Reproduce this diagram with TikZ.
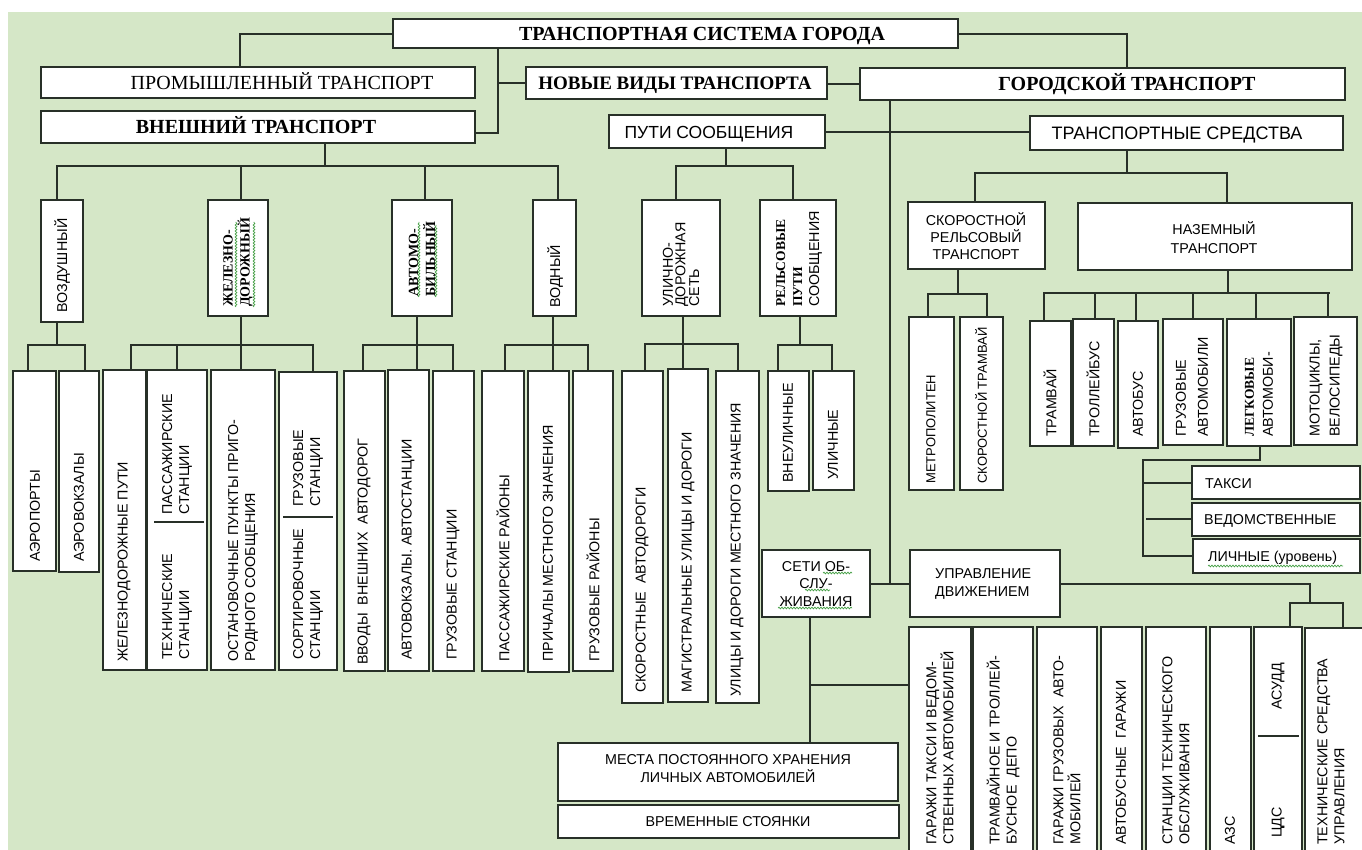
\documentclass[tikz,border=0pt]{standalone}
\usepackage{fontspec}
\setmainfont{Liberation Serif}
\setsansfont{Liberation Sans}
\usetikzlibrary{decorations.pathmorphing}
\definecolor{bg}{RGB}{213,231,199}
\definecolor{ln}{RGB}{40,48,40}
\definecolor{sqc}{RGB}{70,160,70}
\newcommand\bx[5]{\pgfmathsetmacro\bxw{#4-#2}\pgfmathsetmacro\bxh{#5-#3}\node[bx,minimum width=\bxw pt,minimum height=\bxh pt] (#1) at (#2,#3) {};}
\newcommand\rtx[5][]{\node[rt,#1] (#2) at (#3,#4) {#5};}
\begin{document}
\begin{tikzpicture}[x=1pt,y=-1pt,
  bx/.style={rectangle,draw=ln,line width=1.6pt,fill=white,inner sep=0pt,outer sep=0pt,anchor=north west},
  cn/.style={draw=ln,line width=2pt,line cap=rect},
  sep/.style={draw=ln,line width=1.6pt},
  rt/.style={rotate=90,anchor=west,inner sep=0pt,align=left,font=\sffamily\fontsize{14.3}{17}\selectfont},
  rtb/.style={font=\rmfamily\bfseries\fontsize{14}{17}\selectfont},
  hs/.style={inner sep=0pt,align=center,font=\sffamily\fontsize{14.3}{17}\selectfont},
  hb/.style={inner sep=0pt,anchor=base,font=\bfseries\fontsize{20}{22}\selectfont},
  sqs/.style={draw=sqc,line width=0.7pt,decorate,decoration={snake,amplitude=0.9pt,segment length=3pt}}]
\useasboundingbox (0,0) rectangle (1362,850);
\clip (0,0) rectangle (1362,850);
\fill[white] (0,0) rectangle (1362,850);
\fill[bg] (8,12) rectangle (1362,850);

% ---------- boxes ----------
\bx{top}{393}{19}{958}{48}
\bx{prom}{41}{67}{475}{98}
\bx{nov}{526}{67}{827}{99}
\bx{gor}{860}{68}{1345}{100}
\bx{vne}{41}{111}{475}{143}
\bx{put}{609}{115}{825}{148}
\bx{ts}{1030}{116}{1343}{150}

\bx{vozd}{41}{200}{83}{322}
\bx{zhd}{208}{200}{268}{316}
\bx{avt}{392}{200}{452}{316}
\bx{vod}{533}{200}{576}{316}
\bx{uds}{642}{200}{720}{316}
\bx{rps}{760}{200}{836}{316}

\bx{aero}{13}{371}{56}{571}
\bx{avkz}{59}{371}{99}{572}
\bx{zdp}{103}{370}{146}{670}
\bx{pst}{147}{370}{207}{670}
\bx{opp}{211}{370}{275}{670}
\bx{gst}{279}{372}{337}{670}
\bx{vvod}{344}{371}{385}{671}
\bx{avst}{388}{370}{429}{671}
\bx{grst}{433}{371}{474}{671}
\bx{pasr}{482}{371}{524}{671}
\bx{prich}{528}{371}{569}{672}
\bx{grr}{573}{371}{613}{671}
\bx{skad}{622}{371}{663}{703}
\bx{mag}{668}{369}{708}{702}
\bx{ulmz}{716}{371}{759}{703}
\bx{vneul}{768}{371}{809}{491}
\bx{ulich}{813}{371}{854}{490}

\bx{seti}{762}{550}{870}{617}
\bx{mesta}{558}{743}{898}{801}
\bx{vrem}{558}{805}{899}{838}
\bx{upr}{910}{550}{1060}{617}

\bx{skr}{908}{202}{1045}{269}
\bx{naz}{1078}{203}{1352}{270}
\bx{metro}{909}{317}{954}{490}
\bx{sktr}{960}{317}{1003}{490}
\bx{tram}{1030}{321}{1071}{446}
\bx{troll}{1073}{319}{1114}{446}
\bx{avtob}{1118}{321}{1158}{448}
\bx{gruz}{1163}{319}{1223}{445}
\bx{legk}{1227}{319}{1291}{446}
\bx{moto}{1294}{317}{1357}{445}
\bx{taxi}{1192}{466}{1360}{499}
\bx{ved}{1192}{503}{1360}{536}
\bx{lich}{1193}{539}{1360}{573}

\bx{gar1}{909}{627}{971}{870}
\bx{depo}{973}{627}{1033}{870}
\bx{gar2}{1037}{627}{1097}{870}
\bx{avg}{1101}{627}{1142}{870}
\bx{sto}{1146}{627}{1206}{870}
\bx{azs}{1210}{627}{1251}{870}
\bx{asu}{1254}{627}{1302}{870}
\bx{tsu}{1305}{628}{1380}{870}

% ---------- horizontal texts ----------
\node[hb] (t-top) at (702,40.5) {ТРАНСПОРТНАЯ СИСТЕМА ГОРОДА};
\node[hb,font=\fontsize{20}{22}\selectfont] (t-prom) at (282,89.5) {ПРОМЫШЛЕННЫЙ ТРАНСПОРТ};
\node[hb,font=\bfseries\fontsize{19}{22}\selectfont] (t-nov) at (675,89.3) {НОВЫЕ ВИДЫ ТРАНСПОРТА};
\node[hb] (t-gor) at (1127,90.5) {ГОРОДСКОЙ ТРАНСПОРТ};
\node[hb] (t-vne) at (256,133.5) {ВНЕШНИЙ ТРАНСПОРТ};
\node[hb,font=\sffamily\fontsize{17.5}{20}\selectfont] (t-put) at (709,138.3) {ПУТИ СООБЩЕНИЯ};
\node[hb,font=\sffamily\fontsize{18}{20}\selectfont] (t-ts) at (1177,139.4) {ТРАНСПОРТНЫЕ СРЕДСТВА};
\node[hs] (t-skr) at (976,236) {СКОРОСТНОЙ\\РЕЛЬСОВЫЙ\\ТРАНСПОРТ};
\node[hs,font=\sffamily\fontsize{14.3}{19}\selectfont] (t-naz) at (1214,238) {НАЗЕМНЫЙ\\ТРАНСПОРТ};
\node[hs,anchor=base west] (t-taxi) at (1205,488) {ТАКСИ};
\node[hs,anchor=base west] (t-ved) at (1204,524.5) {ВЕДОМСТВЕННЫЕ};
\node[hs,anchor=base west] (t-lich) at (1208,561) {ЛИЧНЫЕ (уровень)};
\node[hs,font=\sffamily\fontsize{14.3}{17.5}\selectfont] (t-seti) at (816,584) {СЕТИ ОБ-\\СЛУ-\\ЖИВАНИЯ};
\node[hs,align=left,anchor=west,font=\sffamily\fontsize{14.3}{18}\selectfont] (t-upr) at (935,584) {УПРАВЛЕНИЕ\\ДВИЖЕНИЕМ};
\node[hs,font=\sffamily\fontsize{14.3}{18}\selectfont] (t-mesta) at (728,769) {МЕСТА ПОСТОЯННОГО ХРАНЕНИЯ\\ЛИЧНЫХ АВТОМОБИЛЕЙ};
\node[hs] (t-vrem) at (728,822) {ВРЕМЕННЫЕ СТОЯНКИ};

% ---------- rotated texts ----------
\rtx{r-vozd}{62}{313}{ВОЗДУШНЫЙ}
\rtx[rtb]{r-zhd}{238}{307}{ЖЕЛЕЗНО-\\ДОРОЖНЫЙ}
\rtx[rtb]{r-avt}{422}{297}{АВТОМО-\\БИЛЬНЫЙ}
\rtx{r-vod}{555}{308}{ВОДНЫЙ}
\rtx[font=\sffamily\fontsize{14.3}{12.5}\selectfont]{r-uds}{681}{307}{УЛИЧНО-\\ДОРОЖНАЯ\\СЕТЬ}
\rtx[rtb,font=\rmfamily\bfseries\fontsize{13.5}{17}\selectfont]{r-rps}{799}{307}{РЕЛЬСОВЫЕ\\ПУТИ\\{\sffamily\mdseries\fontsize{14.3}{17}\selectfont СООБЩЕНИЯ}}

\rtx{r-aero}{35}{562}{АЭРОПОРТЫ}
\rtx{r-avkz}{79}{562}{АЭРОВОКЗАЛЫ}
\rtx{r-zdp}{124}{662}{ЖЕЛЕЗНОДОРОЖНЫЕ ПУТИ}
\rtx{r-pass}{177}{515}{ПАССАЖИРСКИЕ\\СТАНЦИИ}
\rtx{r-tech}{177}{660}{ТЕХНИЧЕСКИЕ\\СТАНЦИИ}
\rtx{r-opp}{243}{662}{ОСТАНОВОЧНЫЕ ПУНКТЫ ПРИГО-\\РОДНОГО СООБЩЕНИЯ}
\rtx{r-gruzst}{308}{507}{ГРУЗОВЫЕ\\СТАНЦИИ}
\rtx{r-sort}{308}{660}{СОРТИРОВОЧНЫЕ\\СТАНЦИИ}
\rtx{r-vvod}{364}{665}{ВВОДЫ~ ВНЕШНИХ~ АВТОДОРОГ}
\rtx{r-avst}{408}{660}{АВТОВОКЗАЛЫ. АВТОСТАНЦИИ}
\rtx{r-grst}{453}{660}{ГРУЗОВЫЕ СТАНЦИИ}
\rtx{r-pasr}{503}{662}{ПАССАЖИРСКИЕ РАЙОНЫ}
\rtx{r-prich}{548}{662}{ПРИЧАЛЫ МЕСТНОГО ЗНАЧЕНИЯ}
\rtx{r-grr}{593}{662}{ГРУЗОВЫЕ РАЙОНЫ}
\rtx{r-skad}{642}{693}{СКОРОСТНЫЕ~ АВТОДОРОГИ}
\rtx{r-mag}{688}{693}{МАГИСТРАЛЬНЫЕ УЛИЦЫ И ДОРОГИ}
\rtx{r-ulmz}{737}{697}{УЛИЦЫ И ДОРОГИ МЕСТНОГО ЗНАЧЕНИЯ}
\rtx{r-vneul}{788}{483}{ВНЕУЛИЧНЫЕ}
\rtx{r-ulich}{833}{480}{УЛИЧНЫЕ}

\rtx[font=\sffamily\fontsize{13}{16}\selectfont]{r-metro}{931}{484}{МЕТРОПОЛИТЕН}
\rtx[font=\sffamily\fontsize{13}{16}\selectfont]{r-sktr}{981}{484}{СКОРОСТНОЙ ТРАМВАЙ}
\rtx{r-tram}{1050}{437}{ТРАМВАЙ}
\rtx{r-troll}{1093}{437}{ТРОЛЛЕЙБУС}
\rtx{r-avtob}{1138}{437}{АВТОБУС}
\rtx[font=\sffamily\fontsize{14.3}{22}\selectfont]{r-gruz}{1192}{437}{ГРУЗОВЫЕ\\АВТОМОБИЛИ}
\rtx[font=\sffamily\fontsize{14.3}{19}\selectfont]{r-legk}{1259}{437}{{\rmfamily\bfseries\fontsize{13.5}{19}\selectfont ЛЕГКОВЫЕ}\\АВТОМОБИ-}
\rtx[font=\sffamily\fontsize{14.3}{20}\selectfont]{r-moto}{1326}{437}{МОТОЦИКЛЫ,\\ВЕЛОСИПЕДЫ}

\rtx{r-gar1}{940}{845}{ГАРАЖИ ТАКСИ И ВЕДОМ-\\СТВЕННЫХ АВТОМОБИЛЕЙ}
\rtx{r-depo}{1003}{845}{ТРАМВАЙНОЕ И ТРОЛЛЕЙ-\\БУСНОЕ~ ДЕПО}
\rtx{r-gar2}{1067}{845}{ГАРАЖИ ГРУЗОВЫХ~ АВТО-\\МОБИЛЕЙ}
\rtx{r-avg}{1121}{845}{АВТОБУСНЫЕ~ ГАРАЖИ}
\rtx{r-sto}{1176}{845}{СТАНЦИИ ТЕХНИЧЕСКОГО\\ОБСЛУЖИВАНИЯ}
\rtx{r-azs}{1230}{845}{АЗС}
\rtx{r-asudd}{1278}{710}{АСУДД}
\rtx{r-cds}{1278}{838}{ЦДС}
\rtx{r-tsu}{1331}{845}{ТЕХНИЧЕСКИЕ СРЕДСТВА\\УПРАВЛЕНИЯ}

% ---------- separators inside split boxes ----------
\draw[sep] (154,522) -- (204,522);
\draw[sep] (283,517) -- (333,517);
\draw[sep] (1258,736) -- (1299,736);

% ---------- connectors ----------
\draw[cn] (top.west |- 0,34) -| (prom.north -| 240,0);
\draw[cn] (top.east |- 0,34) -| (gor.north -| 1127,0);
\draw[cn] (top.south -| 498,0) -- (498,133) -- (vne.east |- 0,133);
\draw[cn] (498,83) -- (nov.west |- 0,83);
\draw[cn] (nov.east |- 0,84) -- (gor.west |- 0,84);
\draw[cn] (put.east |- 0,132) -- (ts.west |- 0,132);
\draw[cn] (gor.south -| 890,0) -- (890,584);
\draw[cn] (seti.east |- 0,584) -- (upr.west |- 0,584);

\draw[cn] (vne.south -| 325,0) -- (325,166);
\draw[cn] (57,166) -- (558,166);
\foreach \n/\x in {vozd/57,zhd/241,avt/425,vod/558} \draw[cn] (\x,166) -- (\n.north -| \x,0);

\draw[cn] (put.south -| 726,0) -- (726,166);
\draw[cn] (676,166) -- (793,166);
\foreach \n/\x in {uds/676,rps/793} \draw[cn] (\x,166) -- (\n.north -| \x,0);

\draw[cn] (ts.south -| 1127,0) -- (1127,173);
\draw[cn] (975,173) -- (1227,173);
\foreach \n/\x in {skr/975,naz/1227} \draw[cn] (\x,173) -- (\n.north -| \x,0);

\draw[cn] (vozd.south -| 57,0) -- (57,345);
\draw[cn] (28,345) -- (85,345);
\foreach \n/\x in {aero/28,avkz/85} \draw[cn] (\x,345) -- (\n.north -| \x,0);

\draw[cn] (zhd.south -| 241,0) -- (241,345);
\draw[cn] (131,345) -- (313,345);
\foreach \n/\x in {zdp/131,pst/177,opp/241,gst/313} \draw[cn] (\x,345) -- (\n.north -| \x,0);

\draw[cn] (avt.south -| 417,0) -- (417,345);
\draw[cn] (363,345) -- (453,345);
\foreach \n/\x in {vvod/363,avst/417,grst/453} \draw[cn] (\x,345) -- (\n.north -| \x,0);

\draw[cn] (vod.south -| 553,0) -- (553,345);
\draw[cn] (505,345) -- (588,345);
\foreach \n/\x in {pasr/505,prich/553,grr/588} \draw[cn] (\x,345) -- (\n.north -| \x,0);

\draw[cn] (uds.south -| 683,0) -- (683,344);
\draw[cn] (645,344) -- (738,344);
\foreach \n/\x in {skad/645,mag/683,ulmz/738} \draw[cn] (\x,344) -- (\n.north -| \x,0);

\draw[cn] (rps.south -| 800,0) -- (800,345);
\draw[cn] (778,345) -- (832,345);
\foreach \n/\x in {vneul/778,ulich/832} \draw[cn] (\x,345) -- (\n.north -| \x,0);

\draw[cn] (skr.south -| 958,0) -- (958,294);
\draw[cn] (928,294) -- (987,294);
\foreach \n/\x in {metro/928,sktr/987} \draw[cn] (\x,294) -- (\n.north -| \x,0);

\draw[cn] (naz.south -| 1228,0) -- (1228,293);
\draw[cn] (1044,293) -- (1329,293);
\foreach \n/\x in {tram/1044,troll/1095,avtob/1136,gruz/1193,legk/1256,moto/1328} \draw[cn] (\x,293) -- (\n.north -| \x,0);

\draw[cn] (legk.south -| 1260,0) -- (1260,460) -- (1143,460) -- (1143,556) -- (lich.west |- 0,556);
\draw[cn] (1143,483) -- (taxi.west |- 0,483);
\draw[cn] (1147,519) -- (ved.west |- 0,519);

\draw[cn] (upr.east |- 0,584) -- (1310,584) -- (1310,603);
\draw[cn] (1290,603) -- (1343,603);
\draw[cn] (1290,603) -- (asu.north -| 1290,0);
\draw[cn] (1343,603) -- (tsu.north -| 1343,0);

\draw[cn] (seti.south -| 810,0) -- (mesta.north -| 810,0);
\draw[cn] (810,685) -- (gar1.west |- 0,685);

% ---------- spell-check squiggles ----------
\draw[sqs] (1208,566) -- (1343,566);
\draw[sqs] (823,573) -- (852,573);
\draw[sqs] (805,590) -- (830,590);
\draw[sqs] (778,608) -- (852,608);
\draw[sqs] (236,307) -- (236,222);
\draw[sqs] (254,307) -- (254,222);
\draw[sqs] (419,297) -- (419,222);
\draw[sqs] (436,297) -- (436,225);
\end{tikzpicture}
\end{document}
